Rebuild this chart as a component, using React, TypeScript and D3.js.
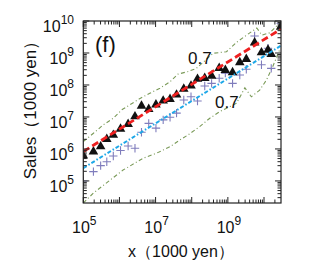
import React from "react";
import * as d3 from "d3";

// log10 of x (1000 yen)
const binX = [5.0, 5.28, 5.48, 5.65, 5.83, 6.03, 6.24, 6.43, 6.61, 6.81, 7.01, 7.21, 7.40, 7.58, 7.78, 7.98, 8.16, 8.36, 8.55, 8.76, 8.93, 9.13, 9.33, 9.51, 9.74, 9.93, 10.11, 10.20, 10.46];
// log10 of sales, triangles
const salesTri = [5.81, 5.94, 6.10, 6.33, 6.46, 6.65, 6.80, 7.04, 7.37, 7.27, 7.41, 7.53, 7.58, 7.72, 7.90, 8.00, 8.21, 8.24, 8.31, 8.55, 8.49, 8.42, 8.73, 8.83, 9.35, 9.04, 9.12, 8.99, 9.84];
// log10 of sales, crosses
const salesCross = [5.0, 5.29, 5.48, 5.60, 5.78, 5.95, 6.09, 6.02, 6.52, 6.80, 6.65, 6.91, 6.99, 7.12, 7.53, 7.63, 7.50, 7.97, 8.05, 8.21, 8.37, 8.05, 8.31, 8.49, 9.53, 8.63, 9.15, 8.52, 9.93];
// upper envelope (log10 x, log10 y)
const upperX = [5.0, 5.28, 5.55, 5.83, 6.06, 6.29, 6.57, 6.84, 7.12, 7.40, 7.62, 7.90, 8.13, 8.59, 8.96, 9.25, 9.52, 9.80, 9.94, 10.16, 10.46];
const upperY = [6.23, 6.49, 6.75, 6.96, 7.22, 7.38, 7.58, 7.74, 7.90, 8.10, 8.34, 8.42, 8.52, 8.99, 9.04, 9.34, 9.56, 9.78, 9.56, 9.63, 9.97];
// lower envelope
const lowerX = [5.0, 5.28, 6.10, 6.66, 7.03, 7.40, 7.67, 7.90, 8.22, 8.50, 8.78, 9.05, 9.24, 9.47, 9.65, 9.88, 10.07, 10.24, 10.43];
const lowerY = [4.31, 4.62, 5.34, 5.71, 5.87, 6.07, 6.28, 6.44, 6.70, 6.96, 7.17, 7.32, 7.43, 7.91, 7.63, 7.84, 8.16, 8.57, 9.09];
// fits: log y = a + slope*(log x - 5)
const slope = 0.7;
const redIntercept = 5.92;
const blueIntercept = 5.4;
const fitRange = [5.0, 10.47];
const yTickExps = [5, 6, 7, 8, 9, 10];
const xTickExps = [5, 7, 9];

const W = 327, H = 261;
const L = 83.3, R = 281, T = 21, B = 203;
const xDomain = [Math.pow(10, 5), Math.pow(10, 10.47)];
const yDomain = [Math.pow(10, 4.31), Math.pow(10, 10)];

export default function App() {
  const x = d3.scaleLog().domain(xDomain).range([L, R]);
  const y = d3.scaleLog().domain(yDomain).range([B, T]);
  const P = (e: number) => Math.pow(10, e);
  const line = d3.line<[number, number]>().x(d => x(P(d[0]))).y(d => y(P(d[1])));

  const minorX: number[] = [];
  for (let e = 5; e <= 10; e++) for (let k = 1; k <= 9; k++) { const v = k * P(e); if (v >= xDomain[0] && v <= xDomain[1]) minorX.push(v); }
  const minorY: number[] = [];
  for (let e = 4; e <= 10; e++) for (let k = 1; k <= 9; k++) { const v = k * P(e); if (v >= yDomain[0] * 0.999 && v <= yDomain[1] * 1.001) minorY.push(v); }
  const isMajor = (v: number) => Math.abs(Math.log10(v) - Math.round(Math.log10(v))) < 1e-6;

  const font = "Liberation Sans, Arial, Helvetica, sans-serif";
  const tri = (cx: number, cy: number) => `M${cx},${cy - 4.8}L${cx + 4.8},${cy + 3.6}L${cx - 4.8},${cy + 3.6}Z`;

  const upper = upperX.map((v, i) => [v, upperY[i]] as [number, number]);
  const lower = lowerX.map((v, i) => [v, lowerY[i]] as [number, number]);
  const red = fitRange.map(v => [v, redIntercept + slope * (v - 5)] as [number, number]);
  const blue = fitRange.map(v => [v, blueIntercept + slope * (v - 5)] as [number, number]);

  return (
    <svg width={W} height={H} style={{ position: "absolute", left: 0, top: 0 }} fontFamily={font}>
      <rect width={W} height={H} fill="#fff" />
      <defs>
        <clipPath id="clip"><rect x={L} y={T} width={R - L} height={B - T} /></clipPath>
      </defs>
      <g clipPath="url(#clip)">
        <path d={line(upper) || ""} fill="none" stroke="#7a9a58" strokeWidth={1.1} strokeDasharray="4,2.5,1,2.5" />
        <path d={line(lower) || ""} fill="none" stroke="#7a9a58" strokeWidth={1.1} strokeDasharray="4,2.5,1,2.5" />
        {binX.map((v, i) => {
          const cx = x(P(v)), cy = y(P(salesCross[i]));
          return <path key={"c" + i} d={`M${cx - 4.2},${cy}H${cx + 4.2}M${cx},${cy - 4.2}V${cy + 4.2}`} stroke="#7f7cbc" strokeWidth={1.1} fill="none" />;
        })}
        {binX.map((v, i) => <path key={"t" + i} d={tri(x(P(v)), y(P(salesTri[i])))} fill="#111" />)}
        <path d={line(red) || ""} fill="none" stroke="#ee2020" strokeWidth={2.8} strokeDasharray="7,3.5" />
        <path d={line(blue) || ""} fill="none" stroke="#1ea8e8" strokeWidth={2} strokeDasharray="4,2,1.5,2" />
      </g>
      {/* ticks */}
      {minorX.map((v, i) => { const px = x(v); const len = isMajor(v) ? 6 : 3.5; return (
        <g key={"xt" + i} stroke="#222" strokeWidth={1}>
          <line x1={px} x2={px} y1={B} y2={B - len} />
          <line x1={px} x2={px} y1={T} y2={T + len} />
        </g>); })}
      {minorY.map((v, i) => { const py = y(v); const len = isMajor(v) ? 6 : 3.5; return (
        <g key={"yt" + i} stroke="#222" strokeWidth={1}>
          <line x1={L} x2={L + len} y1={py} y2={py} />
          <line x1={R} x2={R - len} y1={py} y2={py} />
        </g>); })}
      <rect x={L} y={T} width={R - L} height={B - T} fill="none" stroke="#222" strokeWidth={1.2} />
      {/* y tick labels */}
      {yTickExps.map(e => (
        <text key={"yl" + e} x={74} y={y(P(e)) + 11} textAnchor="end" fontSize={16} fill="#111">
          10<tspan fontSize={12} dy={-8}>{e}</tspan>
        </text>
      ))}
      {xTickExps.map(e => (
        <text key={"xl" + e} x={x(P(e)) + 1} y={233} textAnchor="middle" fontSize={16} fill="#111">
          10<tspan fontSize={12} dy={-8}>{e}</tspan>
        </text>
      ))}
      <text x={181} y={257} textAnchor="middle" fontSize={16} fill="#111">x（1000 yen）</text>
      <text transform={`translate(36,106) rotate(-90)`} textAnchor="middle" fontSize={17} fill="#111">Sales（1000 yen）</text>
      <text x={95} y={52} fontSize={22} fill="#111">(f)</text>
      <text x={188} y={64} fontSize={17} fill="#111">0.7</text>
      <text x={215} y={108} fontSize={17} fill="#111">0.7</text>
    </svg>
  );
}
